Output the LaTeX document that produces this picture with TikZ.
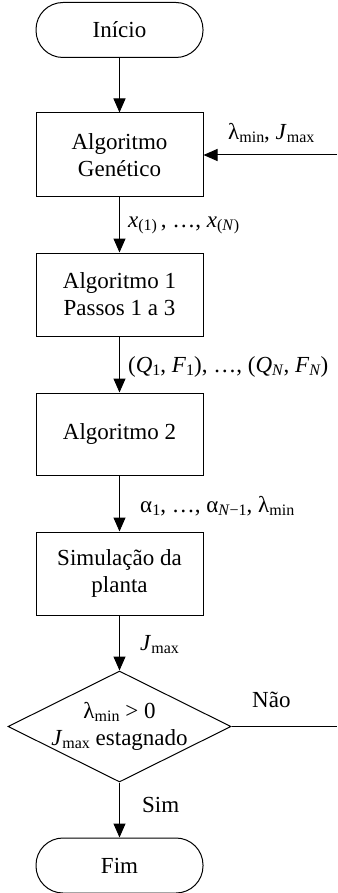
\documentclass[tikz,border=0pt]{standalone}
\usepackage{fontspec}
\setmainfont{Liberation Serif}
\usetikzlibrary{arrows.meta,shapes.geometric}
\newcommand\lsub[1]{\raisebox{-3pt}{\fontsize{16}{16}\selectfont #1}}
\newcommand\itx[1]{\textit{#1}}
\tikzset{
  term/.style={draw, line width=1pt, rounded corners=27pt, minimum width=167pt, minimum height=55pt, inner sep=0pt},
  proc/.style={draw, line width=1pt, minimum width=167pt, align=center, inner sep=0pt},
  decision/.style={diamond, draw, line width=1pt, minimum width=223pt, minimum height=111pt, inner sep=0pt},
  flow/.style={line width=1pt, -{Triangle[length=14pt,width=12pt]}},
  plain/.style={line width=1pt},
  lab/.style={anchor=base west, inner sep=0pt},
}
\begin{document}
\begin{tikzpicture}[x=1pt,y=1pt,font=\fontsize{23}{27}\selectfont]
\path[use as bounding box] (0,0) rectangle (337,-893);
\node[term] (start) at (119.5,-30) {Início};
\node[proc, minimum height=84pt] (ga) at (119.5,-155) {Algoritmo\\Genético};
\node[proc, minimum height=83pt] (a1) at (119.5,-294.5) {Algoritmo 1\\Passos 1 a 3};
\node[proc, minimum height=82pt] (a2) at (119.5,-434) {Algoritmo 2};
\node[proc, minimum height=83pt] (sim) at (119.5,-573.5) {Simulação da\\planta};
\node[decision] (dec) at (119.5,-726.5) {\makebox[0pt]{\raisebox{5pt}{\begin{tabular}{@{}c@{}}λ\lsub{min} > 0\\ \itx{J}\lsub{max} estagnado\end{tabular}}}};
\node[term] (fim) at (119.5,-865.5) {Fim};
\coordinate (fbin) at (337,-155);
\coordinate (noout) at (337,-726.5);
\draw[flow] (start) -- (ga);
\draw[flow] (ga) -- (a1);
\draw[flow] (a1) -- (a2);
\draw[flow] (a2) -- (sim);
\draw[flow] (sim) -- (dec);
\draw[flow] (dec) -- (fim);
\draw[flow] (fbin) -- (ga.east);
\draw[plain] (dec.east) -- (noout);
\node[lab] (l1) at (228,-140) {λ\lsub{min}, \itx{J}\lsub{max}};
\node[lab] (l2) at (128,-227) {\itx{x}\lsub{(1)}\,, …, \itx{x}\lsub{(\itx{N})}};
\node[lab] (l3) at (128,-372) {(\itx{Q}\lsub{1}, \itx{F}\lsub{1}), …, (\itx{Q}\lsub{\itx{N}}, \itx{F}\lsub{\itx{N}})};
\node[lab] (l4) at (140,-512) {α\lsub{1}, …, α\lsub{\itx{N}−1}, λ\lsub{min}};
\node[lab] (l5) at (140,-650) {\itx{J}\lsub{max}};
\node[lab] (l6) at (252,-707) {Não};
\node[lab] (l7) at (142,-812) {Sim};
\end{tikzpicture}
\end{document}
